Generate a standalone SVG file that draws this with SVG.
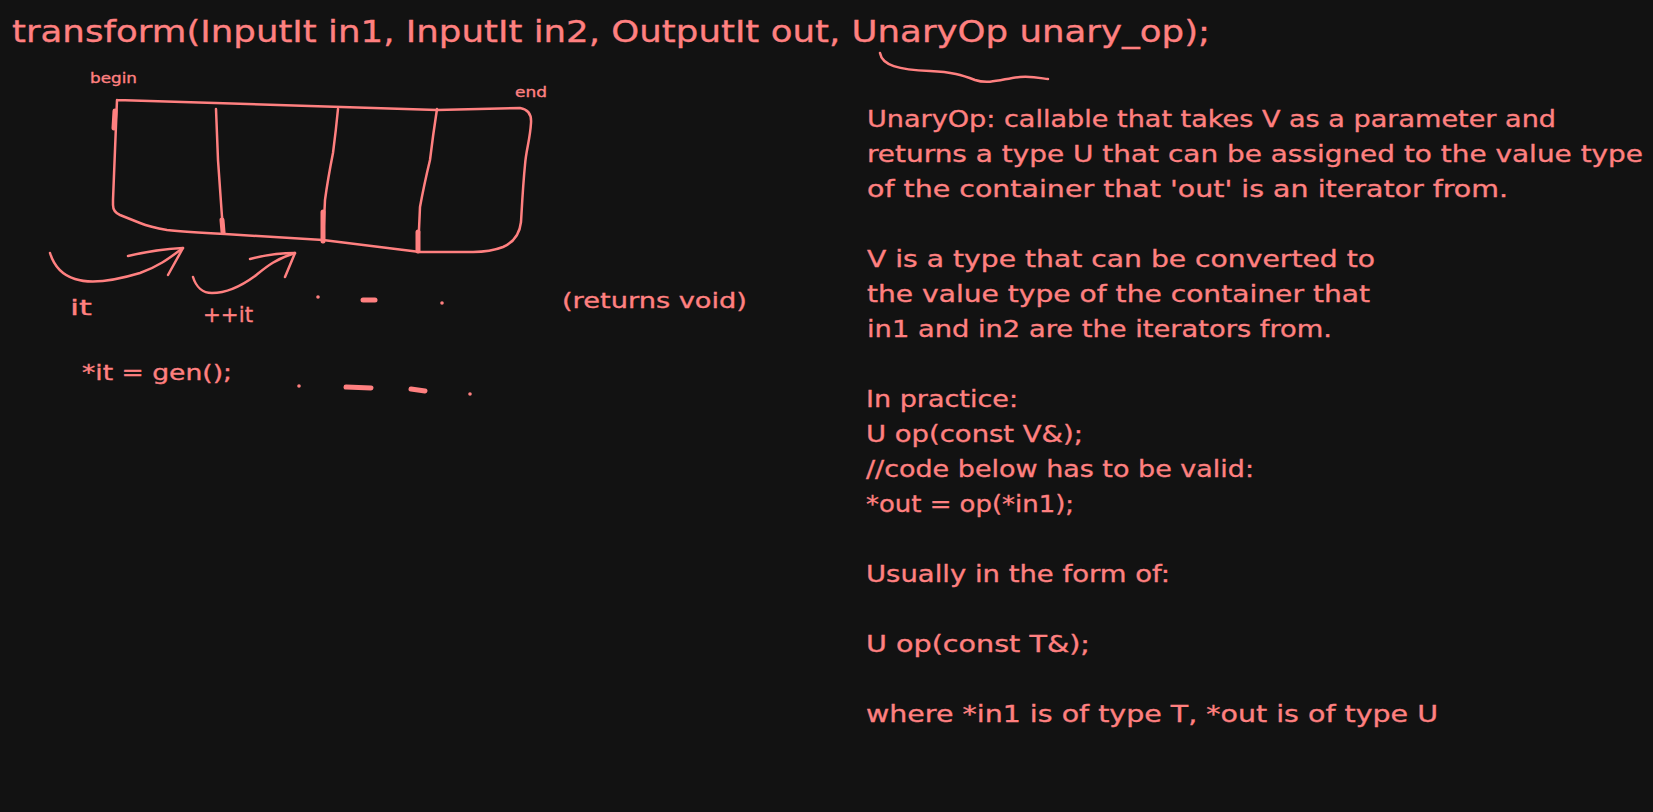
<svg xmlns="http://www.w3.org/2000/svg" width="1653" height="812" viewBox="0 0 1653 812">
<defs>
<style>
.t{font-family:"DejaVu Sans","Liberation Sans",sans-serif;fill:#ff8080;stroke:#ff8080;stroke-width:0.35;}
.s{fill:none;stroke:#ff8080;stroke-width:2.5;stroke-linecap:round;stroke-linejoin:round;}
.thick{fill:none;stroke:#ff8080;stroke-width:5;stroke-linecap:round;}
.dot{fill:#ff8080;}
.note{font-size:23.5px;}
</style>
</defs>
<rect x="0" y="0" width="1653" height="812" fill="#121212"/>

<g id="title">
<text class="t" x="12" y="42" font-size="31" textLength="1198" lengthAdjust="spacingAndGlyphs">transform(InputIt in1, InputIt in2, OutputIt out, UnaryOp unary_op);</text>
</g>

<g id="container">
<path class="s" d="M117,100 L437,110 L520,108 Q532,110 531,123 C530,140 526,150 525,165 C523,185 522,205 521,222 Q519,240 503,247 Q490,252 473,252 L420,252 L323,240 L225,234 Q185,232 167,230 Q150,227 140,223 L120,215 Q113,212 113,205 L113,200 L117,100"/>
<path class="s" d="M216,109 Q217,135 218,160 Q220,190 222,217 L224,233"/>
<path class="s" d="M338,109 Q336,130 333,153 Q328,178 325,200 L323,242"/>
<path class="s" d="M437,109 Q433,135 430,160 Q424,185 420,207 L418,252"/>
<path class="thick" d="M115,111 L114,128"/>
<path class="thick" d="M222,220 L223,232"/>
<path class="thick" d="M323,212 L323,241"/>
<path class="thick" stroke-width="4" d="M418,232 L418,251"/>
</g>

<g id="label-begin"><text class="t" x="90" y="83" font-size="14" textLength="47" lengthAdjust="spacingAndGlyphs">begin</text></g>
<g id="label-end"><text class="t" x="515" y="97" font-size="14" textLength="32" lengthAdjust="spacingAndGlyphs">end</text></g>

<g id="connectors">
<path class="s" d="M50,253 C54,266 62,275 75,279 C90,284 110,282 140,273 C160,266 172,256 183,248"/>
<path class="s" d="M128,256 C145,252 160,249 183,248 L168,275"/>
<path class="s" d="M193,277 C196,287 203,293 212,293 C225,293 240,287 255,276 C265,268 275,259 295,253"/>
<path class="s" d="M250,259 C265,255 280,253 295,253 L285,277"/>
</g>

<g id="label-it"><text class="t" x="70" y="315" font-size="22" textLength="22" lengthAdjust="spacingAndGlyphs">it</text></g>
<g id="label-inc"><text class="t" x="203" y="322" font-size="22" textLength="50" lengthAdjust="spacingAndGlyphs">++it</text></g>
<g id="label-returns"><text class="t" x="562" y="308" font-size="22" textLength="185" lengthAdjust="spacingAndGlyphs">(returns void)</text></g>
<g id="label-gen"><text class="t" x="82" y="380" font-size="21" textLength="150" lengthAdjust="spacingAndGlyphs">*it = gen();</text></g>

<g id="dots">
<circle class="dot" cx="318" cy="297" r="1.8"/>
<path class="thick" stroke-width="4" d="M363,300 L375,300"/>
<circle class="dot" cx="442" cy="303" r="1.8"/>
<circle class="dot" cx="299" cy="386" r="1.8"/>
<path class="thick" d="M346,387 L371,388"/>
<path class="thick" d="M411,389 L425,391"/>
<circle class="dot" cx="470" cy="394" r="1.8"/>
</g>

<g id="underline">
<path class="s" stroke-width="3" d="M880,53 C882,65 898,70 930,71 C952,72 962,75 975,80 C990,85 1005,78 1020,77 C1035,76 1044,79 1048,79"/>
</g>

<g id="notes">
<text class="t note" x="867" y="127" textLength="689" lengthAdjust="spacingAndGlyphs">UnaryOp: callable that takes V as a parameter and</text>
<text class="t note" x="867" y="162" textLength="776" lengthAdjust="spacingAndGlyphs">returns a type U that can be assigned to the value type</text>
<text class="t note" x="867" y="197" textLength="641" lengthAdjust="spacingAndGlyphs">of the container that 'out' is an iterator from.</text>
<text class="t note" x="867" y="267" textLength="508" lengthAdjust="spacingAndGlyphs">V is a type that can be converted to</text>
<text class="t note" x="867" y="302" textLength="503" lengthAdjust="spacingAndGlyphs">the value type of the container that</text>
<text class="t note" x="867" y="337" textLength="465" lengthAdjust="spacingAndGlyphs">in1 and in2 are the iterators from.</text>
<text class="t note" x="866" y="407" textLength="152" lengthAdjust="spacingAndGlyphs">In practice:</text>
<text class="t note" x="866" y="442" textLength="217" lengthAdjust="spacingAndGlyphs">U op(const V&amp;);</text>
<text class="t note" x="866" y="477" textLength="388" lengthAdjust="spacingAndGlyphs">//code below has to be valid:</text>
<text class="t note" x="866" y="512" textLength="208" lengthAdjust="spacingAndGlyphs">*out = op(*in1);</text>
<text class="t note" x="866" y="582" textLength="304" lengthAdjust="spacingAndGlyphs">Usually in the form of:</text>
<text class="t note" x="866" y="652" textLength="224" lengthAdjust="spacingAndGlyphs">U op(const T&amp;);</text>
<text class="t note" x="866" y="722" textLength="572" lengthAdjust="spacingAndGlyphs">where *in1 is of type T, *out is of type U</text>
</g>
</svg>
